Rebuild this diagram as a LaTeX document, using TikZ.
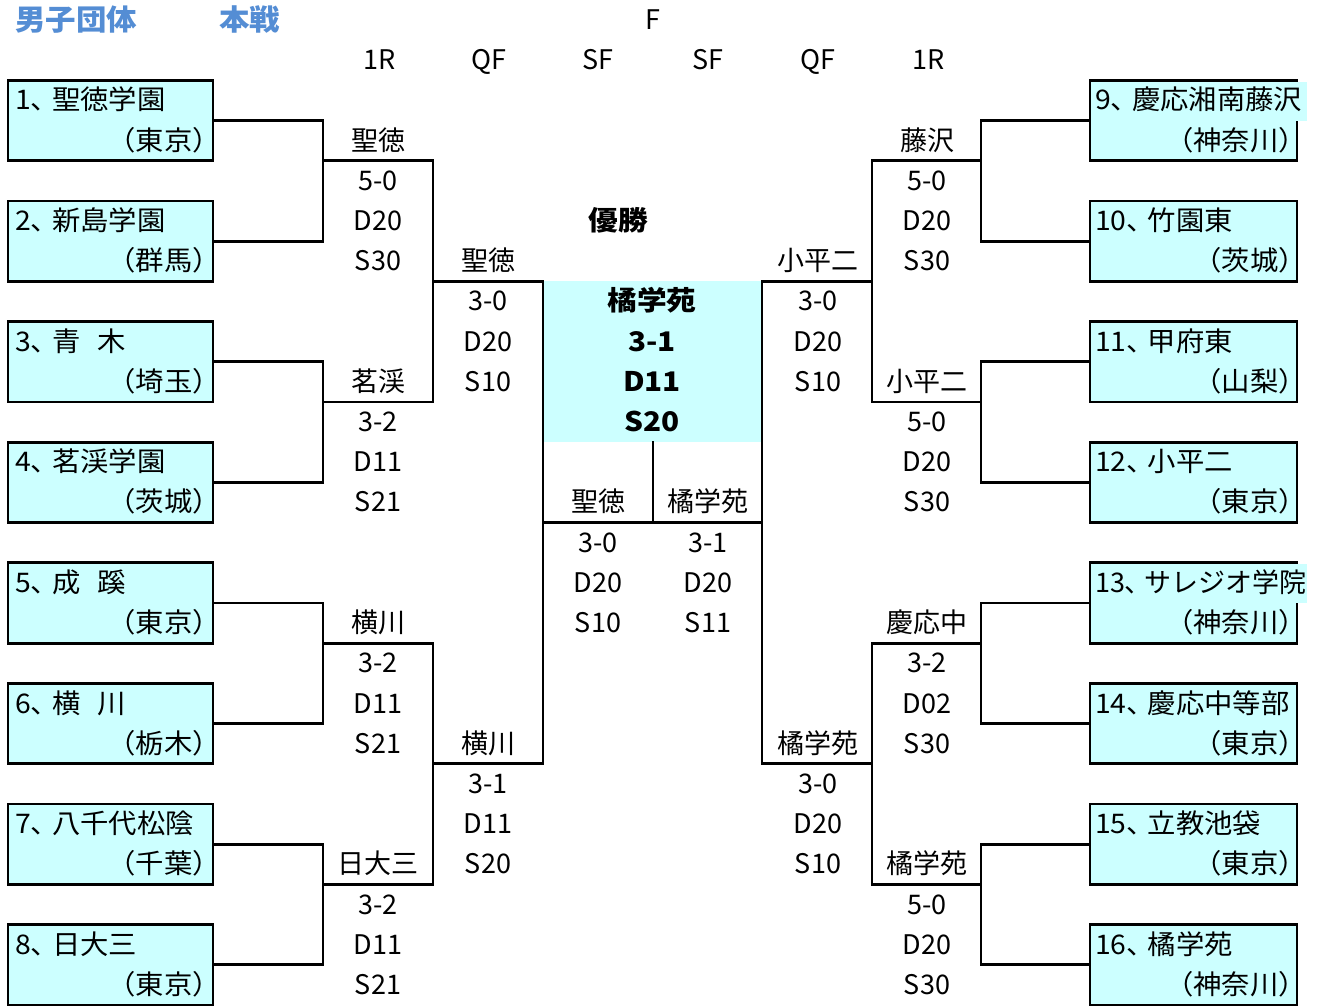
\documentclass[tikz,border=0pt]{standalone}
\usepackage{fontspec}
\setmainfont{Noto Sans CJK JP}
\newfontfamily\cjkbox{Noto Sans CJK JP}[FakeStretch=1.05]
\newfontfamily\cjkwide{Noto Sans CJK JP}[FakeStretch=1.1]
\definecolor{boxcyan}{HTML}{CCFFFF}
\definecolor{titleblue}{RGB}{84,141,212}
\newcommand\tc{、\kern-7pt}
\newcommand\gp{\hspace{17pt}}
\newcommand\mres[7]{%
  \node[res] (#1w) at ({#2},{#3-1+0.736}) {#4};
  \node[res] (#1s) at ({#2},{#3+0.736}) {#5};
  \node[res] (#1d) at ({#2},{#3+1.736}) {#6};
  \node[res] (#1e) at ({#2},{#3+2.736}) {#7};}
\newcommand\lteam[4]{% name, top row, line1, line2
  \node[team, minimum width=205pt] (#1) at (110.5,{#2+1}) {};
  \node[boxtxt, anchor=base west] (#1n) at (15,{#2+0.736}) {#3};
  \node[boxtxt, anchor=base east] (#1p) at (221,{#2+1.736}) {#4};}
\newcommand\rteam[4]{%
  \node[team, minimum width=207pt] (#1) at (1193.5,{#2+1}) {};
  \node[boxtxt, anchor=base west] (#1n) at (1095,{#2+0.736}) {#3};
  \node[boxtxt, anchor=base east] (#1p) at (1307,{#2+1.736}) {#4};}
\begin{document}
\begin{tikzpicture}[x=1pt,y=-40.2pt,
  res/.style={inner sep=0pt, outer sep=0pt, anchor=base, font=\fontsize{27}{32}\selectfont},
  boxtxt/.style={res, font=\cjkbox\fontsize{27}{32}\selectfont},
  winres/.style={res, font=\cjkwide\fontsize{27}{32}\selectfont\bfseries},
  ttl/.style={inner sep=0pt, anchor=base west, text=titleblue, font=\cjkbox\fontsize{29}{34}\selectfont\bfseries},
  team/.style={draw=black, fill=boxcyan, line width=2.8pt, minimum height=80.4pt, inner sep=0pt, outer sep=0pt},
  link/.style={draw=black, line width=2.8pt, line join=miter, line cap=rect}]
\useasboundingbox (0,0) rectangle (1321,{1007/40.2});
% titles
\node[ttl] (t1) at (15,0.77) {男子団体};
\node[ttl] (t2) at (219,0.77) {本戦};
\node[res] (tf) at (653,0.736) {F};
% headers
\node[res] (h1) at (380,1.736) {1R};
\node[res] (h2) at (489,1.736) {QF};
\node[res] (h3) at (598,1.736) {SF};
\node[res] (h4) at (708,1.736) {SF};
\node[res] (h5) at (818,1.736) {QF};
\node[res] (h6) at (929,1.736) {1R};
% center fill
\fill[boxcyan] (543,7) rectangle (762,11);
% left teams
\lteam{B1}{2}{1\tc 聖徳学園}{（東京）}
\lteam{B2}{5}{2\tc 新島学園}{（群馬）}
\lteam{B3}{8}{3\tc 青\gp 木}{（埼玉）}
\lteam{B4}{11}{4\tc 茗渓学園}{（茨城）}
\lteam{B5}{14}{5\tc 成\gp 蹊}{（東京）}
\lteam{B6}{17}{6\tc 横\gp 川}{（栃木）}
\lteam{B7}{20}{7\tc 八千代松陰}{（千葉）}
\lteam{B8}{23}{8\tc 日大三}{（東京）}
% right teams
\rteam{B9}{2}{}{（神奈川）}
\rteam{B10}{5}{10\tc 竹園東}{（茨城）}
\rteam{B11}{8}{11\tc 甲府東}{（山梨）}
\rteam{B12}{11}{12\tc 小平二}{（東京）}
\rteam{B13}{14}{}{（神奈川）}
\rteam{B14}{17}{14\tc 慶応中等部}{（東京）}
\rteam{B15}{20}{15\tc 立教池袋}{（東京）}
\rteam{B16}{23}{16\tc 橘学苑}{（神奈川）}
% overflowing first lines
\fill[boxcyan] (1295.5,{2+1.4/40.2}) rectangle (1307,3);
\fill[boxcyan] (1295.5,{14+1.4/40.2}) rectangle (1307,15);
\node[boxtxt, anchor=base west] (B9m) at (1095,2.736) {9\tc 慶応湘南藤沢};
\node[res, anchor=base west] (B13m) at (1095,14.736) {13\tc サレジオ学院};
% bracket coordinates, left
\coordinate (LA1) at (323,4);  \coordinate (LA2) at (323,10);
\coordinate (LA3) at (323,16); \coordinate (LA4) at (323,22);
\coordinate (LQ1) at (433,4);  \coordinate (LQ2) at (433,10);
\coordinate (LQ3) at (433,16); \coordinate (LQ4) at (433,22);
\coordinate (LQo1) at (433,7); \coordinate (LQo2) at (433,19);
\coordinate (LS1) at (543,7);  \coordinate (LS2) at (543,19);
\coordinate (LF) at (543,13);
% right
\coordinate (RA1) at (981,4);  \coordinate (RA2) at (981,10);
\coordinate (RA3) at (981,16); \coordinate (RA4) at (981,22);
\coordinate (RQ1) at (872,4);  \coordinate (RQ2) at (872,10);
\coordinate (RQ3) at (872,16); \coordinate (RQ4) at (872,22);
\coordinate (RQo1) at (872,7); \coordinate (RQo2) at (872,19);
\coordinate (RS1) at (762,7);  \coordinate (RS2) at (762,19);
\coordinate (RF) at (762,13);
\coordinate (CT) at (653,11);  \coordinate (CB) at (653,13);
% left brackets
\draw[link] (B1.east) -| (LA1) |- (B2.east);
\draw[link] (B3.east) -| (LA2) |- (B4.east);
\draw[link] (B5.east) -| (LA3) |- (B6.east);
\draw[link] (B7.east) -| (LA4) |- (B8.east);
\draw[link] (LA1) -- (LQ1) -- (LQ2) -- (LA2);
\draw[link] (LA3) -- (LQ3) -- (LQ4) -- (LA4);
\draw[link] (LQo1) -- (LS1) -- (LS2) -- (LQo2);
% right brackets
\draw[link] (B9.west) -| (RA1) |- (B10.west);
\draw[link] (B11.west) -| (RA2) |- (B12.west);
\draw[link] (B13.west) -| (RA3) |- (B14.west);
\draw[link] (B15.west) -| (RA4) |- (B16.west);
\draw[link] (RA1) -- (RQ1) -- (RQ2) -- (RA2);
\draw[link] (RA3) -- (RQ3) -- (RQ4) -- (RA4);
\draw[link] (RQo1) -- (RS1) -- (RS2) -- (RQo2);
% final
\draw[link] (LF) -- (RF);
\draw[link] (CT) -- (CB);
% results left
\mres{L1}{378}{4}{聖徳}{5-0}{D20}{S30}
\mres{L2}{378}{10}{茗渓}{3-2}{D11}{S21}
\mres{L3}{378}{16}{横川}{3-2}{D11}{S21}
\mres{L4}{378}{22}{日大三}{3-2}{D11}{S21}
\mres{LQa}{488}{7}{聖徳}{3-0}{D20}{S10}
\mres{LQb}{488}{19}{横川}{3-1}{D11}{S20}
\mres{LS}{598}{13}{聖徳}{3-0}{D20}{S10}
% results right
\mres{RS}{708}{13}{橘学苑}{3-1}{D20}{S11}
\mres{RQa}{818}{7}{小平二}{3-0}{D20}{S10}
\mres{RQb}{818}{19}{橘学苑}{3-0}{D20}{S10}
\mres{R1}{927}{4}{藤沢}{5-0}{D20}{S30}
\mres{R2}{927}{10}{小平二}{5-0}{D20}{S30}
\mres{R3}{927}{16}{慶応中}{3-2}{D02}{S30}
\mres{R4}{927}{22}{橘学苑}{5-0}{D20}{S30}
% champion
\node[winres] (cw) at (618,5.736) {優勝};
\node[winres] (c1) at (652,7.736) {橘学苑};
\node[winres] (c2) at (652,8.736) {3-1};
\node[winres] (c3) at (652,9.736) {D11};
\node[winres] (c4) at (652,10.736) {S20};
\end{tikzpicture}
\end{document}
